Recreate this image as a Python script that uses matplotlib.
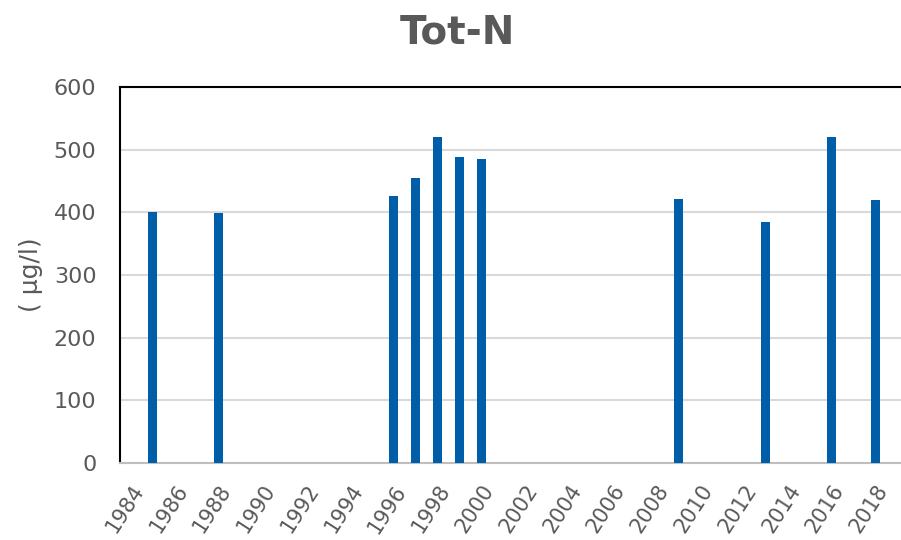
import numpy as np
import matplotlib.pyplot as plt

years = list(range(1984, 2020))
data_years = [1985, 1988, 1996, 1997, 1998, 1999, 2000, 2009, 2013, 2016, 2018]
tot_n = [400, 399, 426, 454, 521, 488, 485, 421, 384, 521, 419]
tick_years = list(range(1984, 2019, 2))

grey = '#595959'

fig = plt.figure(figsize=(9.01, 5.40), dpi=100)
ax = fig.add_axes([120 / 901, 1 - 463 / 540, 788 / 901, (463 - 87) / 540])

ax.bar(data_years, tot_n, width=0.42, color='#005ea8', zorder=3)

ax.set_xlim(years[0] - 0.5, years[-1] + 0.5)
ax.set_ylim(0, 600)
ax.set_yticks(range(0, 601, 100))
ax.yaxis.grid(True, color='#d9d9d9', linewidth=1.5, zorder=0)
ax.set_axisbelow(True)

ax.set_xticks(tick_years)
ax.set_xticklabels([str(y) for y in tick_years], rotation=57, ha='right',
                   va='top', rotation_mode='anchor', fontsize=15)
ax.tick_params(axis='both', length=0, labelcolor=grey)
ax.tick_params(axis='y', pad=17, labelsize=16)
ax.tick_params(axis='x', pad=13)

ax.spines['left'].set_color('black')
ax.spines['left'].set_linewidth(1.5)
ax.spines['top'].set_color('black')
ax.spines['top'].set_linewidth(1.5)
ax.spines['bottom'].set_color('#bfbfbf')
ax.spines['bottom'].set_linewidth(1.5)
ax.spines['right'].set_visible(False)

ax.set_ylabel('( µg/l)', fontsize=18, color=grey, labelpad=8)
fig.text(457 / 901, 1 - 33 / 540, 'Tot-N', fontsize=28, fontweight='bold',
         color=grey, ha='center', va='center')

fig.savefig('out.png', dpi=100)
